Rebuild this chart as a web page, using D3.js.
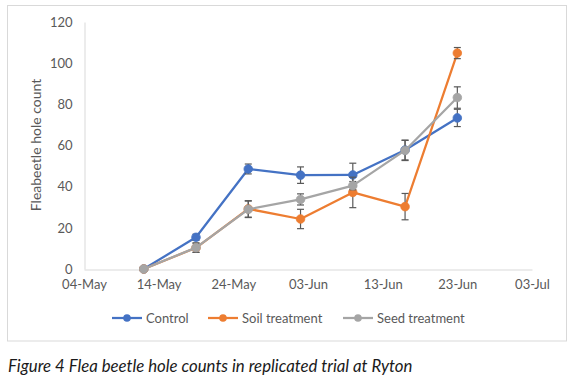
<!DOCTYPE html>
<html><head><meta charset="utf-8">
<script src="https://cdn.jsdelivr.net/npm/d3@7"></script>
<style>
body{margin:0;background:#fff;}
svg{display:block;}
</style></head>
<body><svg id="c" width="576" height="382"></svg>
<script>
const dates = ["2021-05-12","2021-05-19","2021-05-26","2021-06-02","2021-06-09","2021-06-16","2021-06-23"];
const control = [0, 15.4, 48.6, 45.6, 45.7, 57.8, 73.4];
const controlErr = [0, 1.5, 2.4, 4.0, 5.7, 4.8, 4.2];
const soil = [0, 10.3, 29.2, 24.3, 37.2, 30.3, 104.9];
const soilErr = [0, 2.2, 4.0, 4.7, 7.4, 6.4, 2.7];
const seed = [0, 10.4, 29.0, 33.8, 40.5, 57.6, 83.3];
const seedErr = [0, 2.3, 4.0, 2.7, 2.0, 4.9, 5.2];
const seriesNames = ["Control", "Soil treatment", "Seed treatment"];
const seriesColors = ["#4472C4", "#ED7D31", "#A5A5A5"];
const xTickLabels = ["04-May","14-May","24-May","03-Jun","13-Jun","23-Jun","03-Jul"];
const xTickDates = ["2021-05-04","2021-05-14","2021-05-24","2021-06-03","2021-06-13","2021-06-23","2021-07-03"];
const yTicks = [0, 20, 40, 60, 80, 100, 120];
const yTitle = "Fleabeetle hole count";
const caption = "Figure 4 Flea beetle hole counts in replicated trial at Ryton";

const parse = d3.utcParse("%Y-%m-%d");
const svg = d3.select("#c");
const font = "Lato, 'Open Sans', sans-serif";
const textCol = "#595959";

// chart frame
svg.append("rect").attr("x",7.5).attr("y",5.5).attr("width",559).attr("height",335.5)
  .attr("fill","#fff").attr("stroke","#d9d9d9").attr("stroke-width",1);

const x = d3.scaleUtc().domain([parse(xTickDates[0]), parse(xTickDates[xTickDates.length-1])]).range([84, 532]);
const y = d3.scaleLinear().domain([0, 120]).range([269, 22]);

// axes
const xAxis = d3.axisBottom(x).tickValues(xTickDates.map(parse))
  .tickFormat((d,i)=>xTickLabels[i]).tickSize(0).tickPadding(10);
const gx = svg.append("g").attr("transform","translate(0,269.5)").call(xAxis);
gx.select(".domain").attr("stroke","#d9d9d9");
gx.selectAll("text").attr("font-family",font).attr("font-size",13).attr("fill",textCol);

const yAxis = d3.axisLeft(y).tickValues(yTicks).tickSize(0).tickPadding(12);
const gy = svg.append("g").attr("transform","translate(84.5,0)").call(yAxis);
gy.select(".domain").attr("stroke","#d9d9d9");
gy.selectAll("text").attr("font-family",font).attr("font-size",13).attr("fill",textCol);

svg.append("text").attr("transform","translate(41,145) rotate(-90)")
  .attr("text-anchor","middle").attr("font-family",font).attr("font-size",14)
  .attr("fill",textCol).text(yTitle);

const series = [
  {name: seriesNames[0], vals: control, err: controlErr, color: seriesColors[0]},
  {name: seriesNames[1], vals: soil, err: soilErr, color: seriesColors[1]},
  {name: seriesNames[2], vals: seed, err: seedErr, color: seriesColors[2]}
];
const line = d3.line().x(d=>x(d.date)).y(d=>y(d.v));

series.forEach(s=>{
  const pts = dates.map((d,i)=>({date: parse(d), v: s.vals[i], e: s.err[i]}));
  svg.append("path").datum(pts).attr("d", line).attr("fill","none")
    .attr("stroke", s.color).attr("stroke-width", 2.25).attr("stroke-linejoin","round");
  const g = svg.append("g");
  const eb = g.selectAll("g.eb").data(pts.filter(p=>p.e>0)).join("g").attr("stroke","#595959").attr("stroke-width",1.2);
  eb.append("line").attr("x1",d=>x(d.date)).attr("x2",d=>x(d.date)).attr("y1",d=>y(d.v+d.e)).attr("y2",d=>y(d.v-d.e));
  eb.append("line").attr("x1",d=>x(d.date)-3.5).attr("x2",d=>x(d.date)+3.5).attr("y1",d=>y(d.v+d.e)).attr("y2",d=>y(d.v+d.e));
  eb.append("line").attr("x1",d=>x(d.date)-3.5).attr("x2",d=>x(d.date)+3.5).attr("y1",d=>y(d.v-d.e)).attr("y2",d=>y(d.v-d.e));
  g.selectAll("circle").data(pts).join("circle").attr("cx",d=>x(d.date)).attr("cy",d=>y(d.v))
    .attr("r",4.3).attr("fill",s.color).attr("stroke",s.color).attr("stroke-width",0.8);
});

// legend
const legX = [112, 208, 343];
series.forEach((s,i)=>{
  const g = svg.append("g").attr("transform",`translate(${legX[i]},318)`);
  g.append("line").attr("x1",0).attr("x2",30).attr("y1",0).attr("y2",0).attr("stroke",s.color).attr("stroke-width",2.25);
  g.append("circle").attr("cx",15).attr("cy",0).attr("r",3.8).attr("fill",s.color);
  g.append("text").attr("x",34).attr("y",4.5).attr("font-family",font).attr("font-size",13)
    .attr("fill",textCol).text(s.name);
});

svg.append("text").attr("x",8).attr("y",372).attr("font-family",font).attr("font-style","italic")
  .attr("font-size",16.8).attr("fill","#1a1a1a").text(caption);
</script></body></html>
